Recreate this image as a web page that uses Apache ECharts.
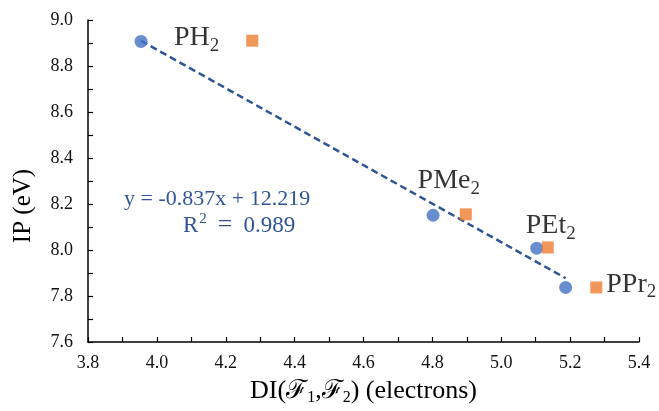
<!DOCTYPE html>
<html><head><meta charset="utf-8">
<script src="https://cdn.jsdelivr.net/npm/echarts@6/dist/echarts.min.js"></script>
<style>html,body{margin:0;padding:0;background:#fff}#c{width:659px;height:411px}</style>
</head><body><div id="c"></div>
<script>
// ---- data ----
const ligandBase = ['PH', 'PMe', 'PEt', 'PPr'];
const ligandSub = ['2', '2', '2', '2'];
const circleX = [3.954, 4.802, 5.103, 5.187];
const circleY = [8.907, 8.151, 8.008, 7.837];
const squareX = [4.277, 4.897, 5.135, 5.276];
const squareY = [8.910, 8.155, 8.011, 7.837];
const trendSlope = -0.837;
const trendIntercept = 12.219;
const trendR2 = 0.989;
const xAxisRange = [3.8, 5.4];
const yAxisRange = [7.6, 9.0];
const tickStep = 0.2;

// ---- build ----
const SERIF = "'Liberation Serif', 'DejaVu Serif', serif";
const circleData = circleX.map((x, i) => [x, circleY[i]]);
const labelPlace = [
  {position: 'left', distance: 27, offset: [0, -3]},
  {position: 'top', distance: 10, offset: [-17, 0]},
  {position: 'top', distance: -2, offset: [3, 0]},
  {position: 'right', distance: 4, offset: [0, -3]}
];
const squareData = squareX.map((x, i) => ({
  value: [x, squareY[i]],
  label: Object.assign({show: true, color: '#000', formatter: '{a|' + ligandBase[i] + '}{s|' + ligandSub[i] + '}'}, labelPlace[i])
}));
const tx0 = Math.min(...circleX), tx1 = Math.max(...circleX);
const trendData = [[tx0, trendSlope * tx0 + trendIntercept], [tx1, trendSlope * tx1 + trendIntercept]];

const chart = echarts.init(document.getElementById('c'), null, {renderer: 'canvas'});
const axisCommon = {
  type: 'value',
  interval: tickStep,
  axisLine: {show: true, onZero: false, lineStyle: {color: '#000', width: 1.5}},
  axisTick: {show: true, inside: true, length: 5, lineStyle: {color: '#000', width: 1.2}},
  minorTick: {show: true, splitNumber: 2, length: 5, lineStyle: {color: '#000', width: 1.2}},
  splitLine: {show: false},
  axisLabel: {color: '#111', fontFamily: SERIF, fontSize: 18, formatter: v => v.toFixed(1)}
};
const EQ = '#2F5597';
chart.setOption({
  animation: false,
  backgroundColor: '#fff',
  grid: {left: 88, right: 20, top: 20, bottom: 64, containLabel: false},
  xAxis: Object.assign({}, axisCommon, {
    min: xAxisRange[0], max: xAxisRange[1],
    axisLabel: Object.assign({}, axisCommon.axisLabel, {margin: 12}),
    name: '{n|DI(}{f|ℱ}{s|1}{n|,}{f|ℱ}{s|2}{n|) (electrons)}',
    nameLocation: 'middle', nameGap: 34,
    nameTextStyle: {
      color: '#000',
      rich: {
        n: {fontFamily: SERIF, fontSize: 26, color: '#000'},
        f: {fontFamily: SERIF, fontSize: 26, color: '#000'},
        s: {fontFamily: SERIF, fontSize: 16, color: '#000', padding: [14, 0, 0, 0]}
      }
    }
  }),
  yAxis: Object.assign({}, axisCommon, {
    min: yAxisRange[0], max: yAxisRange[1],
    axisLabel: Object.assign({}, axisCommon.axisLabel, {margin: 15}),
    name: 'IP (eV)', nameLocation: 'middle', nameGap: 52,
    nameTextStyle: {fontFamily: SERIF, fontSize: 25, color: '#000', padding: [0, 50, 0, 0]}
  }),
  series: [
    {
      type: 'line', data: trendData, symbol: 'none', z: 1,
      lineStyle: {color: EQ, width: 2.5, type: [7, 4]}
    },
    {
      type: 'scatter', data: circleData, symbol: 'circle', symbolSize: 13, z: 3,
      itemStyle: {color: '#4472C4'}
    },
    {
      type: 'scatter', data: squareData, symbol: 'rect', symbolSize: 12, z: 3,
      itemStyle: {color: '#ED7D31'},
      label: {
        color: '#000',
        rich: {
          a: {fontFamily: SERIF, fontSize: 28, color: '#000'},
          s: {fontFamily: SERIF, fontSize: 19, color: '#000', padding: [16, 0, 0, 0]}
        }
      }
    }
  ],
  graphic: [
    {type: 'text', left: 124, top: 188, silent: true,
      style: {text: 'y = ' + trendSlope.toFixed(3) + 'x + ' + trendIntercept.toFixed(3), fontFamily: SERIF, fontSize: 22, fill: EQ}},
    {type: 'text', left: 183, top: 212, silent: true,
      style: {
        text: '{r|R}{p|2}{e|=}{v|' + trendR2.toFixed(3) + '}',
        rich: {
          r: {fontFamily: SERIF, fontSize: 23, fill: EQ, color: EQ},
          p: {fontFamily: SERIF, fontSize: 15, fill: EQ, color: EQ, padding: [0, 0, 12, 1]},
          e: {fontFamily: SERIF, fontSize: 26, fill: EQ, color: EQ, padding: [0, 11, 0, 11]},
          v: {fontFamily: SERIF, fontSize: 23, fill: EQ, color: EQ}
        }
      }}
  ]
});
</script></body></html>
